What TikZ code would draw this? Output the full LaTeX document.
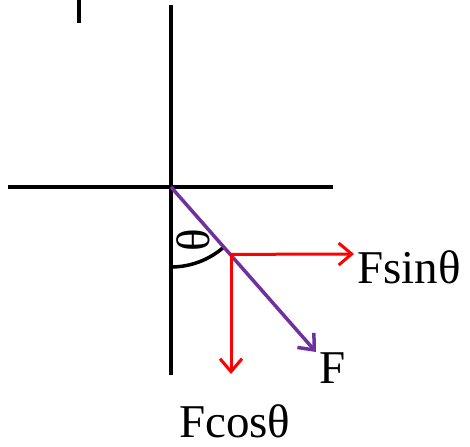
\documentclass[tikz,border=0pt]{standalone}
\usepackage{fontspec}
\setmainfont{Liberation Serif}
\usetikzlibrary{arrows.meta}
\begin{document}
\begin{tikzpicture}[x=1pt,y=1pt,
  axis/.style={line width=4pt},
  force/.style={red,line width=3pt,-{Straight Barb[length=13pt,width=22pt,line width=3pt]}},
  resultant/.style={color={rgb,255:red,112;green,48;blue,160},line width=3.5pt,-{Straight Barb[length=13pt,width=22pt,line width=3.5pt]}},
  lbl/.style={font=\fontsize{47}{52}\selectfont,inner sep=0pt}]
\useasboundingbox (0,0) rectangle (470,446);
\coordinate (m1) at (79,446);
\coordinate (m2) at (79,423);
\coordinate (vt) at (171,441);
\coordinate (vb) at (171,71);
\coordinate (hl) at (8,259);
\coordinate (hr) at (333,259);
\coordinate (O) at (171,259);
\coordinate (P) at (231,191.6);
\coordinate (Ftip) at (316,94);
\coordinate (Stip) at (354,192);
\coordinate (Ctip) at (231,72);
\draw[axis] (m1) -- (m2);
\draw[axis] (vt) -- (vb);
\draw[axis] (hl) -- (hr);
\draw[line width=3.5pt] ([shift={(-90:80pt)}]O) arc[start angle=-90,end angle=-48.3,radius=80pt];
\draw[resultant] (O) -- (Ftip);
\draw[force] (P) -- (Stip);
\draw[force] (P) -- (Ctip);
\node[lbl,rotate=90] (th) at (193,206) {θ};
\node[lbl,anchor=base west] (fs) at (357,162) {Fsinθ};
\node[lbl,anchor=base west] (f) at (319,62) {F};
\node[lbl,anchor=base west] (fc) at (179,9) {Fcosθ};
\end{tikzpicture}
\end{document}
